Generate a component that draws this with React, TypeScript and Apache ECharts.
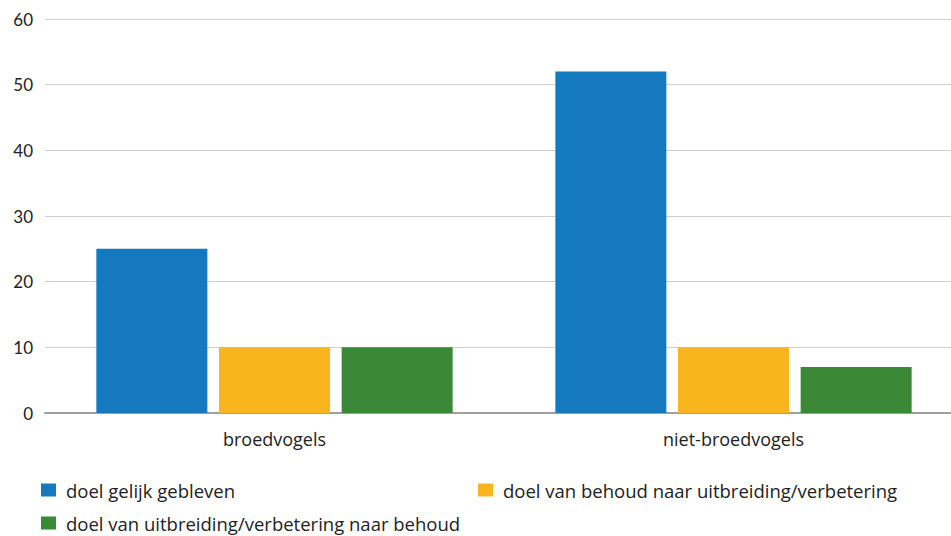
import React, { useEffect, useRef } from "react";
import * as echarts from "echarts";

const categories = ["broedvogels", "niet-broedvogels"];
const seriesNames = [
  "doel gelijk gebleven",
  "doel van behoud naar uitbreiding/verbetering",
  "doel van uitbreiding/verbetering naar behoud",
];
const gelijk = [25, 52];
const behoudNaarUitbreiding = [10, 10];
const uitbreidingNaarBehoud = [10, 7];
const yTicks = [0, 10, 20, 30, 40, 50, 60];

const colors = ["#1479bf", "#f9b51e", "#3b8936"];

export default function App() {
  const ref = useRef<HTMLDivElement>(null);
  useEffect(() => {
    document.body.style.margin = "0";
    const chart = echarts.init(ref.current!, null, { renderer: "svg" });
    const font = "'Open Sans', 'Noto Sans', sans-serif";
    const values = [gelijk, behoudNaarUitbreiding, uitbreidingNaarBehoud];
    chart.setOption({
      animation: false,
      textStyle: { fontFamily: font },
      grid: { left: 45, top: 19, width: 918, height: 394, containLabel: false },
      xAxis: {
        type: "category",
        data: categories,
        axisLine: { lineStyle: { color: "#a0a0a0", width: 2 } },
        axisTick: { show: false },
        axisLabel: { color: "#222", fontSize: 18, margin: 17, fontFamily: font },
      },
      yAxis: {
        type: "value",
        min: yTicks[0],
        max: yTicks[yTicks.length - 1],
        interval: 10,
        axisLine: { show: false },
        axisTick: { show: false },
        axisLabel: { color: "#222", fontSize: 17, margin: 12, fontFamily: "Lato, sans-serif" },
        splitLine: { lineStyle: { color: "#cfcfcf", width: 1 } },
      },
      legend: [0, 1, 2].map((i) => ({
        data: [seriesNames[i]],
        left: [41, 478, 41][i],
        top: [480, 480, 513][i],
        itemWidth: 15,
        itemHeight: 13,
        itemGap: 8,
        icon: "rect",
        textStyle: {
          color: "#222",
          fontSize: 18.5,
          lineHeight: 20,
          fontFamily: font,
          padding: [0, 0, 0, 5],
        },
        padding: 0,
      })),
      series: seriesNames.map((name, i) => ({
        name,
        type: "bar",
        data: values[i],
        barWidth: 111,
        barGap: "10.5%",
        itemStyle: { color: colors[i] },
      })),
    });
    return () => chart.dispose();
  }, []);
  return (
    <div style={{ width: 951, height: 536, overflow: "hidden", position: "relative" }}>
      <div ref={ref} style={{ width: 964, height: 536 }} />
    </div>
  );
}
